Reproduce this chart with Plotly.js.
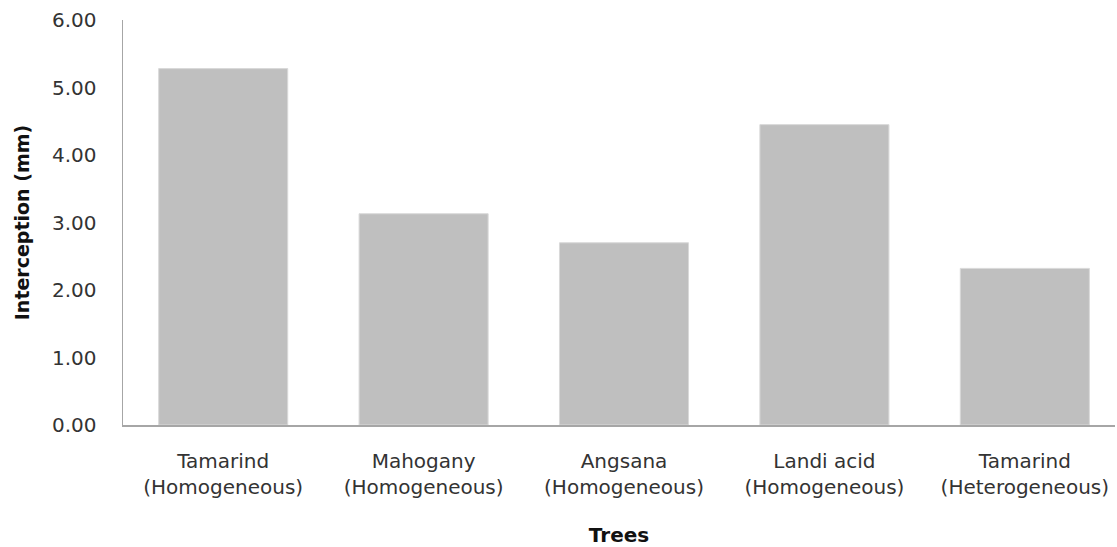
<!DOCTYPE html>
<html>
<head>
<meta charset="utf-8">
<script src="https://cdn.plot.ly/plotly-3.0.1.min.js"></script>
<style>html,body{margin:0;padding:0;background:#fff}#chart{width:1117px;height:547px}</style>
</head>
<body>
<div id="chart"></div>
<script>
const categories = ["Tamarind<br>(Homogeneous)", "Mahogany<br>(Homogeneous)", "Angsana<br>(Homogeneous)", "Landi acid<br>(Homogeneous)", "Tamarind<br>(Heterogeneous)"];
const interception = [5.28, 3.13, 2.70, 4.45, 2.32];
const yTicks = [0, 1, 2, 3, 4, 5, 6];
const yTickLabels = ["0.00", "1.00", "2.00", "3.00", "4.00", "5.00", "6.00"];

const trace = {
  type: "bar",
  x: categories,
  y: interception,
  marker: {color: "#bfbfbf", line: {color: "#d9d9d9", width: 1}},
  hoverinfo: "x+y"
};

const layout = {
  width: 1117, height: 547,
  margin: {l: 123, r: 2, t: 20, b: 122},
  paper_bgcolor: "#ffffff", plot_bgcolor: "#ffffff",
  showlegend: false,
  bargap: 0.356,
  font: {family: "DejaVu Sans, sans-serif", color: "#333333"},
  xaxis: {
    type: "category",
    range: [-0.5, 4.45],
    showline: true, linecolor: "#a6a6a6", linewidth: 1.5,
    showgrid: false, zeroline: false,
    ticks: "outside", ticklen: 17, tickcolor: "rgba(0,0,0,0)",
    tickfont: {size: 20, family: "DejaVu Sans, sans-serif", color: "#333333"},
    title: {text: "<b>Trees</b>", font: {size: 20, family: "DejaVu Sans, sans-serif", color: "#111111"}, standoff: 32}
  },
  yaxis: {
    range: [0, 6],
    tickvals: yTicks, ticktext: yTickLabels,
    showline: true, linecolor: "#a6a6a6", linewidth: 1.5,
    showgrid: false, zeroline: false,
    ticks: "outside", ticklen: 21, tickcolor: "rgba(0,0,0,0)",
    tickfont: {size: 20, family: "DejaVu Sans, sans-serif", color: "#333333"},
    title: {text: "<b>Interception (mm)</b>", font: {size: 19, family: "DejaVu Sans, sans-serif", color: "#111111"}, standoff: 17}
  }
};

Plotly.newPlot("chart", [trace], layout, {displayModeBar: false, staticPlot: true});
</script>
</body>
</html>
